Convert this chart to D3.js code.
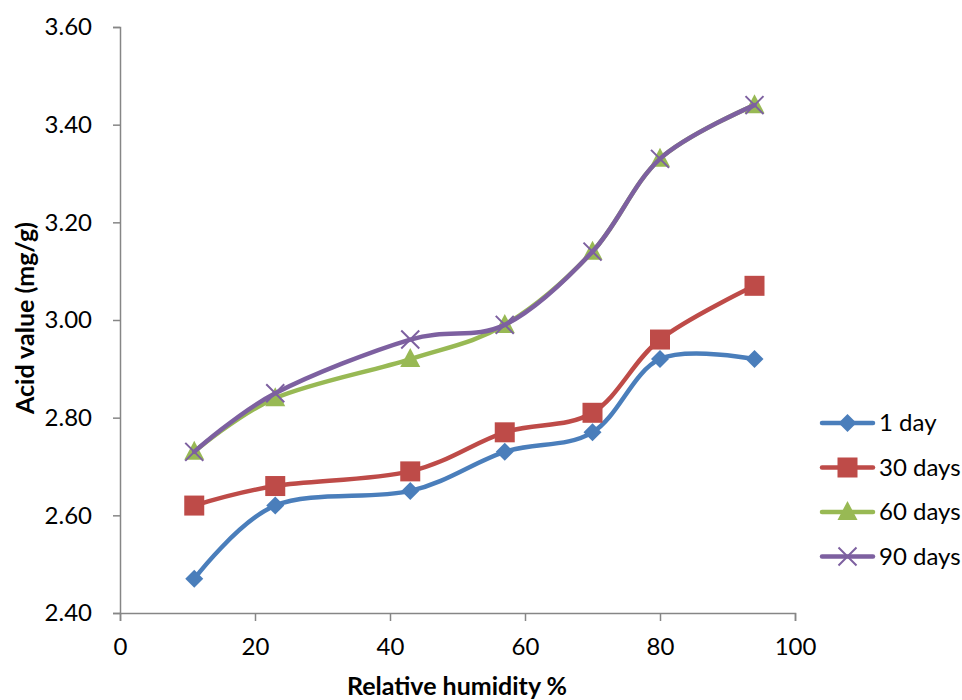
<!DOCTYPE html>
<html><head><meta charset="utf-8">
<script src="https://cdn.jsdelivr.net/npm/d3@7"></script>
<style>body{margin:0;background:#fff}</style>
</head><body>
<svg id="c" width="962" height="700"></svg>
<script>
const humidity = [11, 23, 43, 57, 70, 80, 94];
const day1   = [2.47, 2.62, 2.65, 2.73, 2.77, 2.92, 2.92];
const days30 = [2.62, 2.66, 2.69, 2.77, 2.81, 2.96, 3.07];
const days60 = [2.73, 2.84, 2.92, 2.99, 3.14, 3.33, 3.44];
const days90 = [2.73, 2.85, 2.96, 2.99, 3.14, 3.33, 3.44];
const seriesNames = ["1 day", "30 days", "60 days", "90 days"];
const xTicks = [0, 20, 40, 60, 80, 100];
const yTicks = [2.40, 2.60, 2.80, 3.00, 3.20, 3.40, 3.60];

const colors = ["#4A7EBB", "#BE4B48", "#98B954", "#7D60A0"];
const symbols = ["diamond", "square", "triangle", "x"];
const series = [day1, days30, days60, days90];

const svg = d3.select("#c");
const font = "Lato, 'Liberation Sans', sans-serif";
const x = d3.scaleLinear().domain([0, 100]).range([120, 795]);
const y = d3.scaleLinear().domain([2.40, 3.60]).range([613, 27]);
const axisColor = "#868686";

// y axis
const yAxis = svg.append("g").attr("transform", "translate(120,0)")
  .call(d3.axisLeft(y).tickValues(yTicks).tickFormat(d3.format(".2f")).tickSize(7).tickPadding(21));
// x axis
const xAxis = svg.append("g").attr("transform", "translate(0,613)")
  .call(d3.axisBottom(x).tickValues(xTicks).tickFormat(d3.format("d")).tickSize(8).tickPadding(17));
[yAxis, xAxis].forEach(a => {
  a.select(".domain").attr("stroke", axisColor).attr("stroke-width", 1.5);
  a.selectAll(".tick line").attr("stroke", axisColor).attr("stroke-width", 1.5);
  a.selectAll("text").attr("font-family", font).attr("font-size", 24).attr("fill", "#000");
});

// titles
svg.append("text").attr("x", 457).attr("y", 695).attr("text-anchor", "middle")
  .attr("font-family", font).attr("font-weight", "bold").attr("font-size", 25).text("Relative humidity %");
svg.append("text").attr("transform", "translate(34,318) rotate(-90)").attr("text-anchor", "middle")
  .attr("font-family", font).attr("font-weight", "bold").attr("font-size", 25).text("Acid value (mg/g)");

const line = d3.line().x(d => x(d[0])).y(d => y(d[1])).curve(d3.curveCatmullRom.alpha(0));

function drawMarker(g, type, cx, cy, color) {
  if (type === "diamond") {
    g.append("path").attr("d", `M${cx},${cy-9}L${cx+9},${cy}L${cx},${cy+9}L${cx-9},${cy}Z`).attr("fill", color);
  } else if (type === "square") {
    g.append("rect").attr("x", cx-10).attr("y", cy-10).attr("width", 20).attr("height", 20).attr("fill", color);
  } else if (type === "triangle") {
    g.append("path").attr("d", `M${cx},${cy-11}L${cx+10},${cy+8}L${cx-10},${cy+8}Z`).attr("fill", color);
  } else {
    g.append("path").attr("d", `M${cx-9},${cy-9}L${cx+9},${cy+9}M${cx+9},${cy-9}L${cx-9},${cy+9}`)
      .attr("stroke", color).attr("stroke-width", 2).attr("fill", "none");
  }
}

series.forEach((vals, i) => {
  const pts = humidity.map((h, j) => [h, vals[j]]);
  const g = svg.append("g");
  g.append("path").attr("d", line(pts)).attr("fill", "none").attr("stroke", colors[i])
    .attr("stroke-width", 4.5).attr("stroke-linecap", "round").attr("stroke-linejoin", "round");
  pts.forEach(p => drawMarker(g, symbols[i], x(p[0]), y(p[1]), colors[i]));
});

// legend
seriesNames.forEach((name, i) => {
  const ly = 423 + i * 44.5;
  const g = svg.append("g");
  g.append("line").attr("x1", 822).attr("x2", 873).attr("y1", ly).attr("y2", ly)
    .attr("stroke", colors[i]).attr("stroke-width", 4.5).attr("stroke-linecap", "round");
  drawMarker(g, symbols[i], 847.5, ly, colors[i]);
  g.append("text").attr("x", 879).attr("y", ly).attr("dy", "0.35em")
    .attr("font-family", font).attr("font-size", 24).text(name);
});
</script>
</body></html>
